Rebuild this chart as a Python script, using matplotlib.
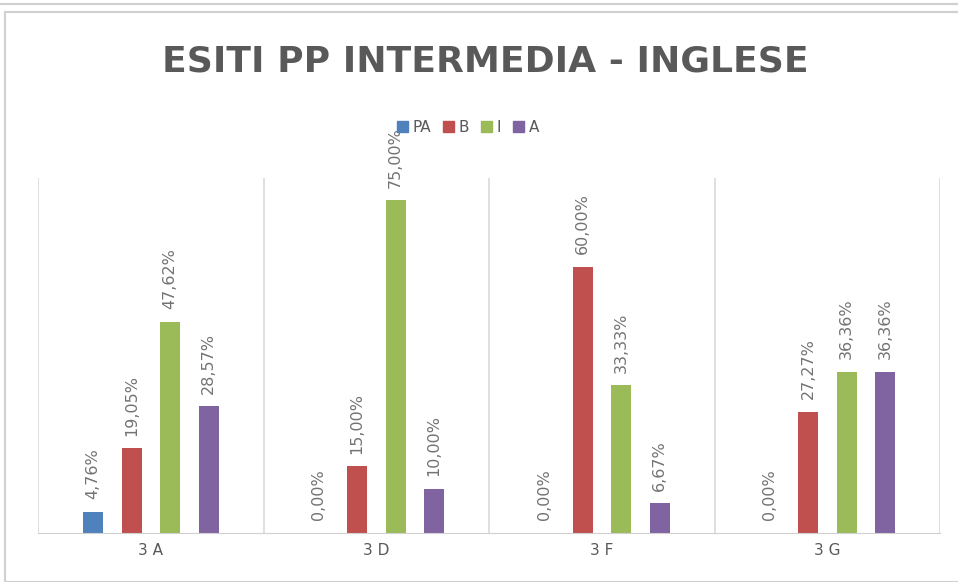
import matplotlib
matplotlib.use("Agg")
import matplotlib.pyplot as plt
from matplotlib.patches import Rectangle
import numpy as np

title = "ESITI PP INTERMEDIA - INGLESE"
categories = ["3A", "3D", "3F", "3G"]
series_names = ["PA", "B", "I", "A"]
PA = [4.76, 0.00, 0.00, 0.00]
B = [19.05, 15.00, 60.00, 27.27]
I = [47.62, 75.00, 33.33, 36.36]
A = [28.57, 10.00, 6.67, 36.36]
colors = ["#4F81BD", "#C0504D", "#9BBB59", "#8064A2"]

W, H = 958, 582
fig = plt.figure(figsize=(W / 100, H / 100), dpi=100)
fig.patch.set_facecolor("white")

# outer chart border
fig.patches.append(Rectangle((5 / W, 0), 1.2, 1 - 12 / H, transform=fig.transFigure,
                             fill=False, edgecolor="#d0d0d0", linewidth=1.5))
fig.lines.append(plt.Line2D([0, 1], [1 - 4 / H, 1 - 4 / H], transform=fig.transFigure,
                            color="#d0d0d0", linewidth=1.5))

ax = fig.add_axes([38 / W, 1 - 533 / H, (940 - 38) / W, (533 - 178) / H])
ax.set_ylim(0, 80)
n = len(categories)
ax.set_xlim(-0.5, n - 0.5)
for s in ["top", "right", "left"]:
    ax.spines[s].set_visible(False)
ax.spines["bottom"].set_color("#d0d0d0")
ax.set_yticks([])
ax.set_xticks(range(n))
ax.set_xticklabels([" ".join(c) for c in categories], color="#595959", fontsize=11)
ax.tick_params(axis="x", length=0, pad=7)

for b in np.arange(-0.5, n, 1.0):
    ax.axvline(b, color="#d9d9d9", linewidth=1.2, zorder=0)

x = np.arange(n)
step = 38.5 / 225.5
bw = 20 / 225.5
data = [PA, B, I, A]
for k, (name, vals, c) in enumerate(zip(series_names, data, colors)):
    pos = x + (k - 1.5) * step
    ax.bar(pos, vals, width=bw, color=c, label=name, zorder=2)
    for px, v in zip(pos, vals):
        ax.annotate(f"{v:.2f}%".replace(".", ","), (px, v), xytext=(0, 9),
                    textcoords="offset points", rotation=90, ha="center", va="bottom",
                    fontsize=11.5, color="#737373")

fig.text(485 / W, 1 - 62 / H, title, ha="center", va="center", fontsize=26,
         fontweight="semibold", color="#595959")

handles = [Rectangle((0, 0), 1, 1, color=c) for c in colors]
fig.legend(handles, series_names, loc="center", bbox_to_anchor=(468 / W, 1 - 127 / H),
           ncol=4, frameon=False, fontsize=11, handlelength=0.7, handleheight=0.7,
           handletextpad=0.3, columnspacing=0.8, labelcolor="#595959")

fig.savefig("out.png", dpi=100)
